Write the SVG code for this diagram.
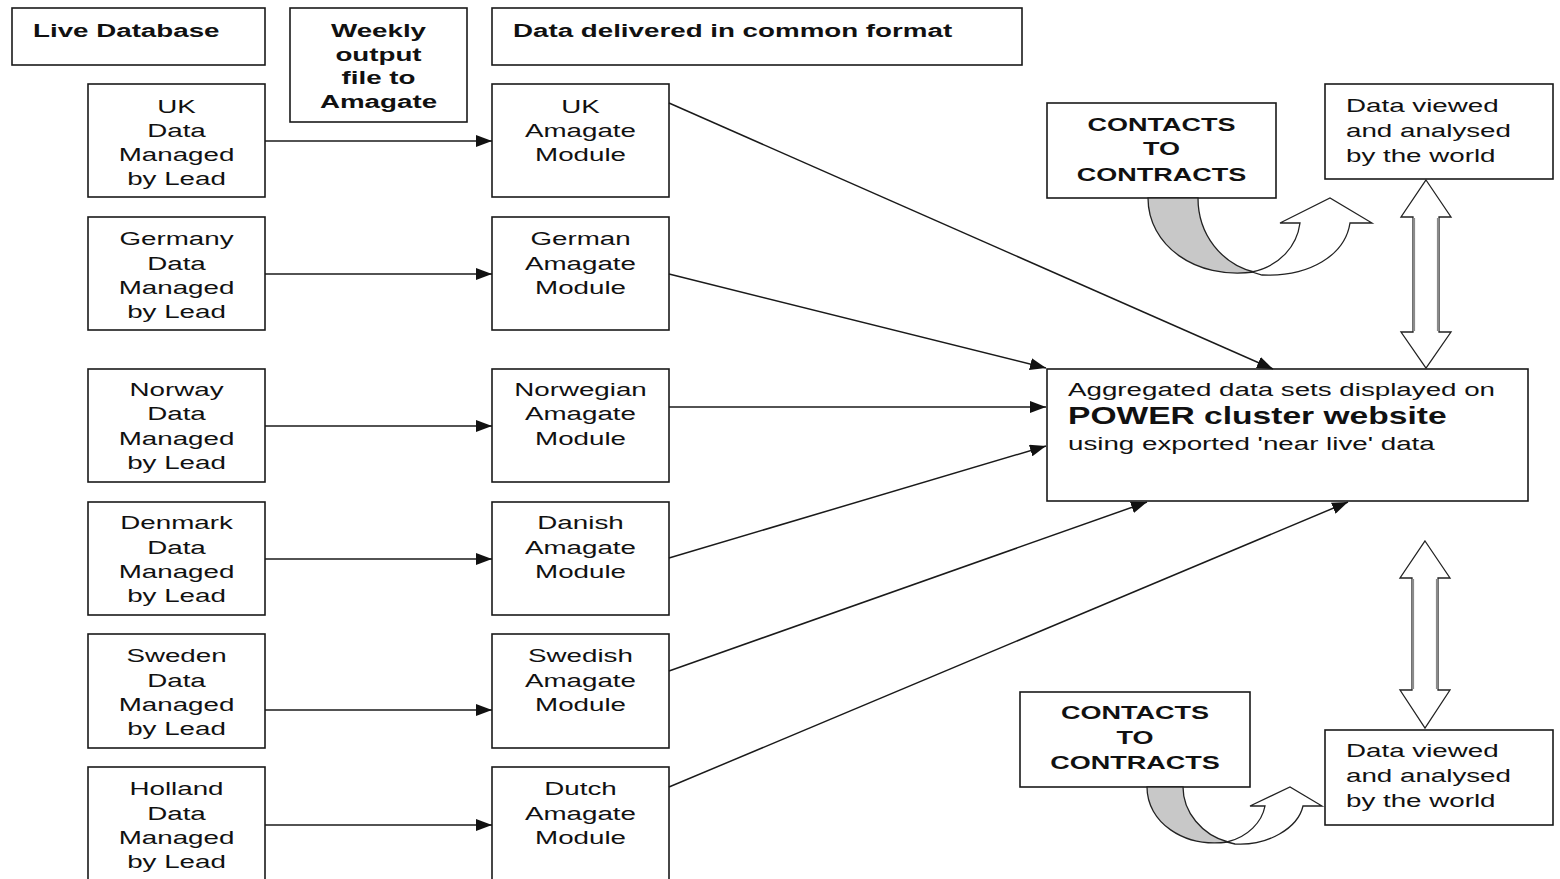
<svg xmlns="http://www.w3.org/2000/svg" width="1560" height="879" viewBox="0 0 1560 879">
<style>
.box{fill:#fff;stroke:#1a1a1a;stroke-width:1.6}
.t{font-family:"Liberation Sans",Arial,sans-serif;font-size:19px;fill:#111}
.b{font-weight:bold}
.c{text-anchor:middle}
.ln{stroke:#1a1a1a;stroke-width:1.5;fill:none}
.big{fill:#fff;stroke:#222;stroke-width:1.3}
.shaft{stroke:#8a8a8a;stroke-width:2.2;fill:none}
.back{fill:#c8c8c8;stroke:#222;stroke-width:1.3}
</style>
<defs>
<marker id="ah" markerUnits="userSpaceOnUse" markerWidth="16" markerHeight="12" viewBox="0 0 16 12" refX="16" refY="6" orient="auto">
<path d="M0,0 L16,6 L0,12 Z" fill="#111"/>
</marker>
</defs>
<rect width="1560" height="879" fill="#fff"/>

<g id="hdr-live"><rect class="box" x="12" y="8" width="253" height="57"/>
<text class="t b" transform="matrix(1.46,0,0,1,33,0)"><tspan x="0" y="37">Live Database</tspan></text></g>
<g id="hdr-weekly"><rect class="box" x="290" y="8" width="177" height="114"/>
<text class="t b c" transform="matrix(1.46,0,0,1,378.5,0)"><tspan x="0" y="37">Weekly</tspan><tspan x="0" y="61">output</tspan><tspan x="0" y="84">file to</tspan><tspan x="0" y="108">Amagate</tspan></text></g>
<g id="hdr-common"><rect class="box" x="492" y="8" width="530" height="57"/>
<text class="t b" transform="matrix(1.46,0,0,1,513,0)"><tspan x="0" y="37">Data delivered in common format</tspan></text></g>

<g id="uk-lead"><rect class="box" x="88" y="84" width="177" height="113"/>
<text class="t c" transform="matrix(1.46,0,0,1,176.5,0)"><tspan x="0" y="113">UK</tspan><tspan x="0" y="137">Data</tspan><tspan x="0" y="161">Managed</tspan><tspan x="0" y="185">by Lead</tspan></text></g>
<g id="de-lead"><rect class="box" x="88" y="217" width="177" height="113"/>
<text class="t c" transform="matrix(1.46,0,0,1,176.5,0)"><tspan x="0" y="245">Germany</tspan><tspan x="0" y="270">Data</tspan><tspan x="0" y="294">Managed</tspan><tspan x="0" y="318">by Lead</tspan></text></g>
<g id="no-lead"><rect class="box" x="88" y="369" width="177" height="113"/>
<text class="t c" transform="matrix(1.46,0,0,1,176.5,0)"><tspan x="0" y="396">Norway</tspan><tspan x="0" y="420">Data</tspan><tspan x="0" y="445">Managed</tspan><tspan x="0" y="469">by Lead</tspan></text></g>
<g id="dk-lead"><rect class="box" x="88" y="502" width="177" height="113"/>
<text class="t c" transform="matrix(1.46,0,0,1,176.5,0)"><tspan x="0" y="529">Denmark</tspan><tspan x="0" y="554">Data</tspan><tspan x="0" y="578">Managed</tspan><tspan x="0" y="602">by Lead</tspan></text></g>
<g id="se-lead"><rect class="box" x="88" y="634" width="177" height="114"/>
<text class="t c" transform="matrix(1.46,0,0,1,176.5,0)"><tspan x="0" y="662">Sweden</tspan><tspan x="0" y="687">Data</tspan><tspan x="0" y="711">Managed</tspan><tspan x="0" y="735">by Lead</tspan></text></g>
<g id="nl-lead"><rect class="box" x="88" y="767" width="177" height="120"/>
<text class="t c" transform="matrix(1.46,0,0,1,176.5,0)"><tspan x="0" y="795">Holland</tspan><tspan x="0" y="820">Data</tspan><tspan x="0" y="844">Managed</tspan><tspan x="0" y="868">by Lead</tspan></text></g>

<g id="uk-mod"><rect class="box" x="492" y="84" width="177" height="113"/>
<text class="t c" transform="matrix(1.46,0,0,1,580.5,0)"><tspan x="0" y="113">UK</tspan><tspan x="0" y="137">Amagate</tspan><tspan x="0" y="161">Module</tspan></text></g>
<g id="de-mod"><rect class="box" x="492" y="217" width="177" height="113"/>
<text class="t c" transform="matrix(1.46,0,0,1,580.5,0)"><tspan x="0" y="245">German</tspan><tspan x="0" y="270">Amagate</tspan><tspan x="0" y="294">Module</tspan></text></g>
<g id="no-mod"><rect class="box" x="492" y="369" width="177" height="113"/>
<text class="t c" transform="matrix(1.46,0,0,1,580.5,0)"><tspan x="0" y="396">Norwegian</tspan><tspan x="0" y="420">Amagate</tspan><tspan x="0" y="445">Module</tspan></text></g>
<g id="dk-mod"><rect class="box" x="492" y="502" width="177" height="113"/>
<text class="t c" transform="matrix(1.46,0,0,1,580.5,0)"><tspan x="0" y="529">Danish</tspan><tspan x="0" y="554">Amagate</tspan><tspan x="0" y="578">Module</tspan></text></g>
<g id="se-mod"><rect class="box" x="492" y="634" width="177" height="114"/>
<text class="t c" transform="matrix(1.46,0,0,1,580.5,0)"><tspan x="0" y="662">Swedish</tspan><tspan x="0" y="687">Amagate</tspan><tspan x="0" y="711">Module</tspan></text></g>
<g id="nl-mod"><rect class="box" x="492" y="767" width="177" height="120"/>
<text class="t c" transform="matrix(1.46,0,0,1,580.5,0)"><tspan x="0" y="795">Dutch</tspan><tspan x="0" y="820">Amagate</tspan><tspan x="0" y="844">Module</tspan></text></g>

<g id="power"><rect class="box" x="1047" y="369" width="481" height="132"/>
<text class="t" transform="matrix(1.46,0,0,1,1068,0)"><tspan x="0" y="396">Aggregated data sets displayed on</tspan><tspan x="0" y="424" class="b" style="font-size:23px">POWER cluster website</tspan><tspan x="0" y="450">using exported 'near live' data</tspan></text></g>

<g id="contacts-top"><rect class="box" x="1047" y="103" width="229" height="95"/>
<text class="t b c" style="font-size:18.5px" transform="matrix(1.46,0,0,1,1161.5,0)"><tspan x="0" y="131">CONTACTS</tspan><tspan x="0" y="155">TO</tspan><tspan x="0" y="181">CONTRACTS</tspan></text></g>
<g id="world-top"><rect class="box" x="1325" y="84" width="228" height="95"/>
<text class="t" transform="matrix(1.46,0,0,1,1346,0)"><tspan x="0" y="112">Data viewed</tspan><tspan x="0" y="137">and analysed</tspan><tspan x="0" y="162">by the world</tspan></text></g>
<g id="contacts-bottom"><rect class="box" x="1020" y="692" width="230" height="95"/>
<text class="t b c" style="font-size:18.5px" transform="matrix(1.46,0,0,1,1135,0)"><tspan x="0" y="719">CONTACTS</tspan><tspan x="0" y="744">TO</tspan><tspan x="0" y="769">CONTRACTS</tspan></text></g>
<g id="world-bottom"><rect class="box" x="1325" y="730" width="228" height="95"/>
<text class="t" transform="matrix(1.46,0,0,1,1346,0)"><tspan x="0" y="757">Data viewed</tspan><tspan x="0" y="782">and analysed</tspan><tspan x="0" y="807">by the world</tspan></text></g>

<g id="connectors">
<line class="ln" x1="265" y1="141" x2="492" y2="141" marker-end="url(#ah)"/>
<line class="ln" x1="265" y1="274" x2="492" y2="274" marker-end="url(#ah)"/>
<line class="ln" x1="265" y1="426" x2="492" y2="426" marker-end="url(#ah)"/>
<line class="ln" x1="265" y1="559" x2="492" y2="559" marker-end="url(#ah)"/>
<line class="ln" x1="265" y1="710" x2="492" y2="710" marker-end="url(#ah)"/>
<line class="ln" x1="265" y1="825" x2="492" y2="825" marker-end="url(#ah)"/>
<line class="ln" x1="669" y1="103" x2="1273" y2="369" marker-end="url(#ah)"/>
<line class="ln" x1="669" y1="274" x2="1046" y2="368" marker-end="url(#ah)"/>
<line class="ln" x1="669" y1="407" x2="1046" y2="407" marker-end="url(#ah)"/>
<line class="ln" x1="669" y1="558" x2="1046" y2="446" marker-end="url(#ah)"/>
<line class="ln" x1="669" y1="671" x2="1147" y2="502" marker-end="url(#ah)"/>
<line class="ln" x1="669" y1="787" x2="1348" y2="502" marker-end="url(#ah)"/>

<g id="dbl-top">
<polygon class="big" points="1426,180 1451,217 1439,217 1439,332 1451,332 1426,368 1401,332 1413,332 1413,217 1401,217"/>
<line class="shaft" x1="1414" y1="218" x2="1414" y2="331"/><line class="shaft" x1="1438" y1="218" x2="1438" y2="331"/>
</g>
<g id="dbl-bottom">
<polygon class="big" points="1425,541 1450,578 1438,578 1438,690 1450,690 1425,728 1400,690 1412,690 1412,578 1400,578"/>
<line class="shaft" x1="1413" y1="579" x2="1413" y2="689"/><line class="shaft" x1="1437" y1="579" x2="1437" y2="689"/>
</g>

<g id="curve-top">
<path class="back" d="M1148,198 L1198,198 C1198,235 1222,264 1254,272 C1195,280 1148,245 1148,198 Z"/>
<path class="big" d="M1252,272 C1280,266 1297,246 1300,223 L1280,223 L1330,198 L1372,223 L1350,223 C1345,255 1310,277 1262,275 Z"/>
</g>
<g id="curve-bottom">
<path class="back" d="M1147,787 L1183,787 C1183,812 1202,835 1228,842 C1183,848 1147,822 1147,787 Z"/>
<path class="big" d="M1227,842 C1248,837 1262,822 1265,806 L1250,806 L1290,787 L1322,806 L1303,806 C1298,828 1268,846 1235,844 Z"/>
</g>
</g>
</svg>
